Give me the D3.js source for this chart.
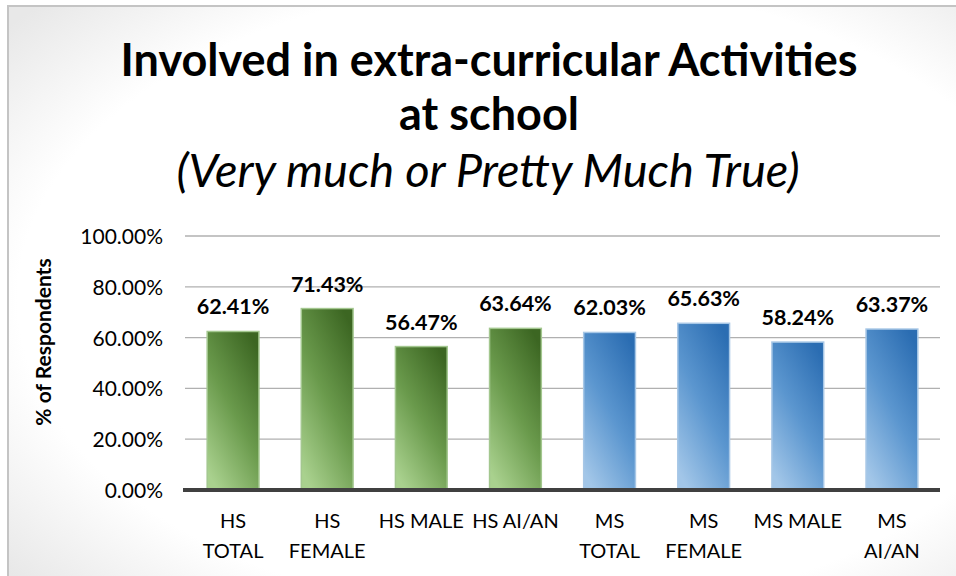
<!DOCTYPE html>
<html>
<head>
<meta charset="utf-8">
<script src="https://cdn.jsdelivr.net/npm/d3@7"></script>
<style>
  html, body { margin: 0; padding: 0; background: #fff; }
  svg { display: block; }
  text { font-family: Lato, "Open Sans", "DejaVu Sans", sans-serif; fill: #000; }
</style>
</head>
<body>
<svg id="chart" width="956" height="576"></svg>
<script>
// Chart data
const categories = ["HS TOTAL", "HS FEMALE", "HS MALE", "HS AI/AN", "MS TOTAL", "MS FEMALE", "MS MALE", "MS AI/AN"];
const categoryLines = [["HS", "TOTAL"], ["HS", "FEMALE"], ["HS MALE"], ["HS AI/AN"], ["MS", "TOTAL"], ["MS", "FEMALE"], ["MS MALE"], ["MS", "AI/AN"]];
const values = [0.6241, 0.7143, 0.5647, 0.6364, 0.6203, 0.6563, 0.5824, 0.6337];
const groups = ["HS", "HS", "HS", "HS", "MS", "MS", "MS", "MS"];
const yTicks = [0, 0.2, 0.4, 0.6, 0.8, 1.0];
const titleLines = ["Involved in extra-curricular Activities", "at school"];
const subtitle = "(Very much or Pretty Much True)";
const yAxisTitle = "% of Respondents";

const svg = d3.select("#chart");
const W = 956, H = 576;

// Background: white panel, soft grey toward the edges, thin frame top/left
const defs = svg.append("defs");
const bg = defs.append("radialGradient").attr("id", "bgGrad")
  .attr("cx", "55%").attr("cy", "50%").attr("r", "72%");
bg.append("stop").attr("offset", "0.75").attr("stop-color", "#ffffff");
bg.append("stop").attr("offset", "1").attr("stop-color", "#e8e8e8");

svg.append("rect").attr("x", 0).attr("y", 0).attr("width", W).attr("height", H).attr("fill", "#fff");
svg.append("rect").attr("x", 8).attr("y", 6).attr("width", W + 10).attr("height", H + 10)
  .attr("fill", "url(#bgGrad)").attr("stroke", "#c4c4c4").attr("stroke-width", 2);

// Bar gradients
const palettes = {
  HS: { stops: ["#3c6622", "#6a9a4c", "#a9d18e"], edge: "#a3c78f" },
  MS: { stops: ["#2b6db2", "#5b96cf", "#a2c6e8"], edge: "#a7c7e6" }
};
Object.entries(palettes).forEach(([k, p]) => {
  const g = defs.append("linearGradient").attr("id", "grad" + k)
    .attr("x1", "0.8").attr("y1", "0").attr("x2", "0.2").attr("y2", "1");
  p.stops.forEach((c, i) => g.append("stop").attr("offset", i / (p.stops.length - 1)).attr("stop-color", c));
});

// Scales
const plot = { left: 185, right: 940, top: 236, bottom: 490 };
const x = d3.scaleBand().domain(categories).range([plot.left + 1, plot.right - 1])
  .paddingInner(0.45).paddingOuter(0.225);
const y = d3.scaleLinear().domain([0, 1]).range([plot.bottom, plot.top]);

// Gridlines
svg.append("g").selectAll("line").data(yTicks.filter(t => t > 0)).join("line")
  .attr("x1", plot.left).attr("x2", plot.right)
  .attr("y1", d => y(d)).attr("y2", d => y(d))
  .attr("stroke", "#b0b0b0").attr("stroke-width", 1.3);

// Y axis tick labels
const yAxis = d3.axisLeft(y).tickValues(yTicks).tickFormat(d => (d * 100).toFixed(2) + "%").tickSize(0).tickPadding(0);
const yg = svg.append("g").attr("transform", `translate(163,0)`).call(yAxis);
yg.select(".domain").remove();
yg.selectAll("text").attr("font-size", 21).attr("font-family", "Lato, sans-serif").attr("fill", "#000").attr("dy", "0.36em");

// Y axis title
svg.append("text")
  .attr("transform", `translate(51,342) rotate(-90)`)
  .attr("text-anchor", "middle").attr("font-weight", "bold").attr("font-size", 21)
  .text(yAxisTitle);

// Bars
svg.append("g").selectAll("rect").data(values).join("rect")
  .attr("x", (d, i) => x(categories[i]))
  .attr("width", x.bandwidth())
  .attr("y", d => y(d))
  .attr("height", d => y(0) - y(d))
  .attr("fill", (d, i) => `url(#grad${groups[i]})`)
  .attr("stroke", (d, i) => palettes[groups[i]].edge).attr("stroke-width", 1.5);

// Value labels
svg.append("g").selectAll("text").data(values).join("text")
  .attr("x", (d, i) => x(categories[i]) + x.bandwidth() / 2)
  .attr("y", d => y(d) - 17)
  .attr("text-anchor", "middle").attr("font-weight", "bold").attr("font-size", 21.5)
  .text(d => (d * 100).toFixed(2) + "%");

// Baseline
svg.append("line").attr("x1", plot.left - 2).attr("x2", plot.right)
  .attr("y1", y(0)).attr("y2", y(0)).attr("stroke", "#404040").attr("stroke-width", 4);

// Category labels (pre-wrapped)
const xl = svg.append("g").selectAll("text").data(categoryLines).join("text")
  .attr("x", (d, i) => x(categories[i]) + x.bandwidth() / 2)
  .attr("y", 528).attr("text-anchor", "middle").attr("font-size", 20);
xl.selectAll("tspan").data(d => d).join("tspan")
  .attr("x", function () { return d3.select(this.parentNode).attr("x"); })
  .attr("dy", (d, i) => i === 0 ? 0 : 30)
  .text(d => d);

// Title
const tBaselines = [76, 130];
titleLines.forEach((t, i) => {
  svg.append("text").attr("x", 489).attr("y", tBaselines[i])
    .attr("text-anchor", "middle").attr("font-weight", "bold").attr("font-size", 45)
    .text(t);
});
svg.append("text").attr("x", 488).attr("y", 187)
  .attr("text-anchor", "middle").attr("font-style", "italic").attr("font-size", 47)
  .text(subtitle);
</script>
</body>
</html>
